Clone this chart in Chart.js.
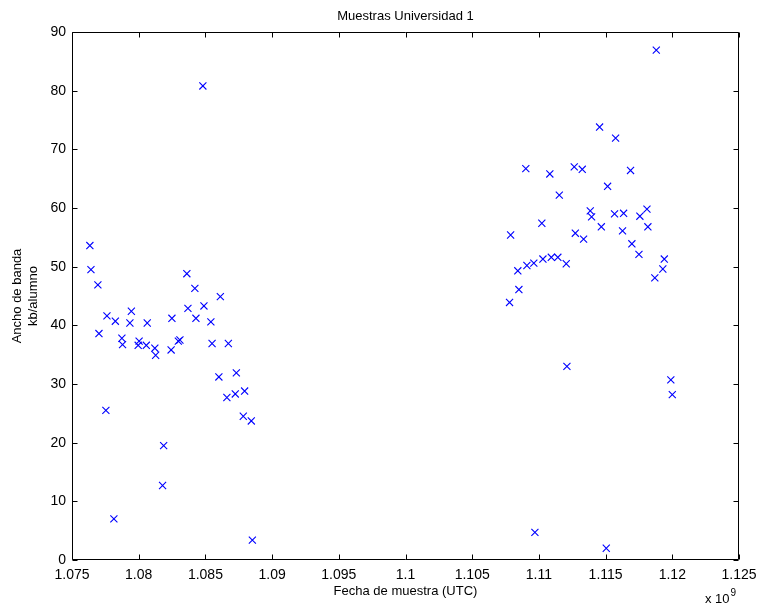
<!DOCTYPE html>
<html><head><meta charset="utf-8">
<script src="https://cdn.jsdelivr.net/npm/chart.js@4/dist/chart.umd.min.js"></script>
<style>html,body{margin:0;padding:0;background:#fff}#wrap{width:759px;height:605px}</style>
</head><body><div id="wrap"><canvas id="c" width="759" height="605"></canvas></div>
<script>
const TITLE = 'Muestras Universidad 1';
const X_LABEL = 'Fecha de muestra (UTC)';
const Y_LABEL = ['Ancho de banda', 'kb/alumno'];
const X_EXPONENT = '9';
const X_TICKS = [1.075, 1.08, 1.085, 1.09, 1.095, 1.1, 1.105, 1.11, 1.115, 1.12, 1.125];
const Y_TICKS = [0, 10, 20, 30, 40, 50, 60, 70, 80, 90];

// sample dates in units of 10^9 s
const SAMPLE_DATES = [
  1.07634, 1.07642, 1.07694, 1.07702, 1.07754, 1.07762, 1.07814, 1.07825, 1.07874, 1.07879,
  1.07934, 1.07945, 1.07996, 1.08003, 1.08057, 1.08064, 1.08121, 1.08127, 1.08179, 1.08187,
  1.08243, 1.08249, 1.08297, 1.08309, 1.08361, 1.08369, 1.08421, 1.08429, 1.08481, 1.08489,
  1.08541, 1.08550, 1.08601, 1.08612, 1.08661, 1.08672, 1.08724, 1.08732, 1.08784, 1.08794,
  1.08844, 1.08852,
  1.10780, 1.10788, 1.10842, 1.10850, 1.10902, 1.10910, 1.10962, 1.10970, 1.11022, 1.11030,
  1.11082, 1.11093, 1.11142, 1.11153, 1.11205, 1.11210, 1.11265, 1.11273, 1.11325, 1.11335,
  1.11385, 1.11395, 1.11455, 1.11468, 1.11505, 1.11515, 1.11567, 1.11575, 1.11627, 1.11635,
  1.11687, 1.11697, 1.11750, 1.11757, 1.11810, 1.11817, 1.11869, 1.11880, 1.11929, 1.11940,
  1.11989, 1.12000
];
// bandwidth in kb per student
const BANDWIDTH = [
  53.6, 49.5, 46.9, 38.6, 25.5, 41.6, 7.0, 40.7, 37.8, 36.7,
  40.4, 42.4, 36.6, 37.3, 36.6, 40.4, 36.1, 34.9, 12.7, 19.5,
  35.8, 41.2, 37.3, 37.5, 48.8, 42.9, 46.3, 41.2, 80.8, 43.3,
  40.6, 36.9, 31.2, 44.9, 27.7, 36.9, 28.3, 31.9, 24.5, 28.8,
  23.7, 3.4,
  43.9, 55.4, 49.3, 46.1, 66.7, 50.2, 50.6, 4.7, 57.4, 51.3,
  65.8, 51.6, 51.6, 62.2, 50.5, 33.0, 67.0, 55.7, 66.6, 54.7,
  59.5, 58.5, 73.8, 56.8, 2.0, 63.7, 59.0, 71.9, 56.1, 59.1,
  66.4, 53.9, 52.1, 58.6, 59.8, 56.8, 48.1, 86.9, 49.6, 51.3,
  30.7, 28.2
];

const FONT = '"Liberation Sans", Arial, Helvetica, sans-serif';

const boxTicks = {
  id: 'boxTicks',
  afterDraw(chart) {
    const {ctx, chartArea: {left, right, top, bottom}, scales: {x, y}} = chart;
    const L = Math.round(left) + 0.5, R = Math.round(right) - 0.5;
    const T = Math.round(top) + 0.5, B = Math.round(bottom) - 0.5;
    ctx.save();
    ctx.strokeStyle = '#000';
    ctx.lineWidth = 1;
    ctx.beginPath();
    ctx.rect(L, T, R - L, B - T);
    const len = 5;
    x.ticks.forEach(t => {
      const px = Math.round(x.getPixelForValue(t.value)) + 0.5;
      ctx.moveTo(px, B); ctx.lineTo(px, B - len);
      ctx.moveTo(px, T); ctx.lineTo(px, T + len);
    });
    y.ticks.forEach(t => {
      const py = Math.round(y.getPixelForValue(t.value)) + 0.5;
      ctx.moveTo(L, py); ctx.lineTo(L + len, py);
      ctx.moveTo(R, py); ctx.lineTo(R - len, py);
    });
    ctx.stroke();
    // exponent label
    ctx.fillStyle = '#000';
    ctx.textBaseline = 'alphabetic';
    ctx.textAlign = 'left';
    ctx.font = '13px ' + FONT;
    const base = 'x 10';
    const bx = 705, by = 603;
    ctx.fillText(base, bx, by);
    const w = ctx.measureText(base).width;
    ctx.font = '10px ' + FONT;
    ctx.fillText(X_EXPONENT, bx + w + 1, by - 7);
    ctx.restore();
  }
};

new Chart(document.getElementById('c'), {
  type: 'scatter',
  data: {
    datasets: [{
      data: SAMPLE_DATES.map((d, i) => ({x: d, y: BANDWIDTH[i]})),
      pointStyle: 'crossRot',
      radius: 5,
      borderWidth: 1.1,
      borderColor: '#0000ff',
      backgroundColor: '#0000ff'
    }]
  },
  options: {
    responsive: false,
    devicePixelRatio: 1,
    animation: false,
    events: [],
    layout: {padding: {left: 0, right: 20, top: 0, bottom: 0}},
    plugins: {
      legend: {display: false},
      tooltip: {enabled: false},
      title: {
        display: true, text: TITLE, fullSize: false, color: '#000',
        font: {family: FONT, size: 13, weight: 'normal'},
        padding: {top: 9, bottom: 7.4}
      }
    },
    scales: {
      x: {
        type: 'linear', min: 1.075, max: 1.125,
        afterBuildTicks: s => { s.ticks = X_TICKS.map(v => ({value: v})); },
        afterFit: s => { s.height = 45; s.paddingLeft = 0; s.paddingRight = 0; },
        grid: {display: false, drawTicks: false},
        border: {display: false},
        ticks: {
          color: '#000', autoSkip: false, maxRotation: 0, padding: 7,
          font: {family: FONT, size: 14},
          callback: v => String(+(+v).toFixed(3))
        },
        title: {
          display: true, text: X_LABEL, color: '#000',
          font: {family: FONT, size: 13}, padding: {top: 0, bottom: 6}
        }
      },
      y: {
        type: 'linear', min: 0, max: 90,
        afterBuildTicks: s => { s.ticks = Y_TICKS.map(v => ({value: v})); },
        afterFit: s => { s.width = 72; s.paddingTop = 0; s.paddingBottom = 0; },
        grid: {display: false, drawTicks: false},
        border: {display: false},
        ticks: {
          color: '#000', padding: 6,
          font: {family: FONT, size: 14},
          callback: v => String(v)
        },
        title: {
          display: true, text: Y_LABEL, color: '#000',
          font: {family: FONT, size: 13}, padding: {top: 10, bottom: 0}
        }
      }
    }
  },
  plugins: [boxTicks]
});
</script>
</body></html>
